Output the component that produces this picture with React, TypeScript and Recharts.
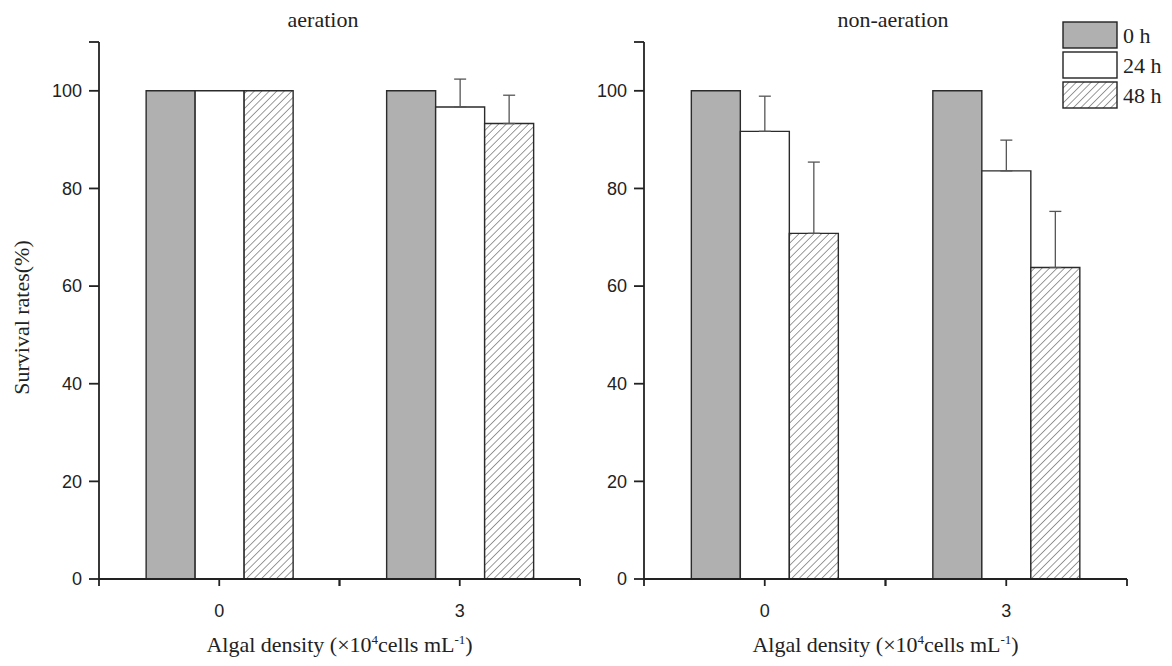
import React from "react";
import { BarChart, Bar, XAxis, YAxis, ErrorBar, Legend, Label } from "recharts";

// Survival rates (%) at algal density 0 and 3 (x10^4 cells/mL)
const densities = ["0", "3"];
const seriesNames = ["0 h", "24 h", "48 h"];

const aeration0h = [100, 100];
const aeration24h = [100, 96.7];
const aeration48h = [100, 93.3];
const aeration24hErr = [null, 5.7];
const aeration48hErr = [null, 5.8];

const nonAeration0h = [100, 100];
const nonAeration24h = [91.7, 83.6];
const nonAeration48h = [70.8, 63.8];
const nonAeration24hErr = [7.2, 6.3];
const nonAeration48hErr = [14.6, 11.5];

const yTicks = [0, 20, 40, 60, 80, 100, 110];

const SERIF = "'Liberation Serif', 'Times New Roman', serif";
const SANS = "'Liberation Sans', Arial, sans-serif";
const INK = "#222";
const X_TICK_SIZE = 7;
const X_TICK_MARGIN = 18;

// only the upper half of the error bar is drawn
const upper = (v: number | null) => (v == null ? null : [0, v]);

const buildRows = (
  h0: number[],
  h24: number[],
  h48: number[],
  e24: (number | null)[],
  e48: (number | null)[]
) =>
  densities.map((d, i) => ({
    density: d,
    h0: h0[i],
    h24: h24[i],
    h48: h48[i],
    e24: upper(e24[i]),
    e48: upper(e48[i]),
  }));

const aerationRows = buildRows(aeration0h, aeration24h, aeration48h, aeration24hErr, aeration48hErr);
const nonAerationRows = buildRows(
  nonAeration0h,
  nonAeration24h,
  nonAeration48h,
  nonAeration24hErr,
  nonAeration48hErr
);

function XTick(props: any) {
  const { x, y, payload } = props;
  const half = typeof payload?.offset === "number" ? payload.offset : 0;
  const axisY = y - X_TICK_SIZE - X_TICK_MARGIN;
  return (
    <g>
      {half > 0 && (
        <>
          <line x1={x - half} x2={x - half} y1={axisY} y2={axisY + X_TICK_SIZE} stroke={INK} strokeWidth={1.8} />
          <line x1={x + half} x2={x + half} y1={axisY} y2={axisY + X_TICK_SIZE} stroke={INK} strokeWidth={1.8} />
        </>
      )}
      <text x={x} y={y} dy="0.71em" textAnchor="middle" fontFamily={SANS} fontSize={18} fill={INK}>
        {payload.value}
      </text>
    </g>
  );
}

function XTitle(props: any) {
  const vb = props.viewBox;
  const cx = vb.x + vb.width / 2;
  return (
    <text x={cx} y={vb.y + 73} textAnchor="middle" fontFamily={SERIF} fontSize={22} fill={INK}>
      Algal density (×10
      <tspan dy={-8} fontSize={13}>4</tspan>
      <tspan dy={8}>cells mL</tspan>
      <tspan dy={-8} fontSize={13}>-1</tspan>
      <tspan dy={8}>)</tspan>
    </text>
  );
}

function YTitle(props: any) {
  const vb = props.viewBox;
  const x = 29;
  const y = vb.y + vb.height / 2 + 7;
  return (
    <text
      x={x}
      y={y}
      textAnchor="middle"
      transform={`rotate(-90, ${x}, ${y})`}
      fontFamily={SERIF}
      fontSize={22}
      fill={INK}
    >
      Survival rates(%)
    </text>
  );
}

function BoxLegend(props: any) {
  const items = props.payload ?? [];
  return (
    <svg width={124} height={92}>
      {items.map((entry: any, i: number) => (
        <g key={entry.value}>
          <rect x={1} y={1 + i * 30} width={54} height={26} fill={entry.color} stroke={INK} strokeWidth={1.4} />
          <text x={61} y={22 + i * 30} fontFamily={SERIF} fontSize={22} fill={INK}>
            {entry.value}
          </text>
        </g>
      ))}
    </svg>
  );
}

function Hatch({ id }: { id: string }) {
  return (
    <defs>
      <pattern id={id} patternUnits="userSpaceOnUse" width={5.3} height={5.3} patternTransform="rotate(45)">
        <rect width={5.3} height={5.3} fill="#fff" />
        <line x1={0} y1={0} x2={0} y2={5.3} stroke="#4a4a4a" strokeWidth={1.1} />
      </pattern>
    </defs>
  );
}

function Panel({
  rows,
  title,
  titleX,
  hatchId,
  width,
  margin,
  showYTitle,
  showLegend,
}: {
  rows: any[];
  title: string;
  titleX: number;
  hatchId: string;
  width: number;
  margin: { top: number; right: number; bottom: number; left: number };
  showYTitle?: boolean;
  showLegend?: boolean;
}) {
  const fills = ["#b0b0b0", "#ffffff", `url(#${hatchId})`];
  const keys = ["h0", "h24", "h48"];
  return (
    <BarChart width={width} height={666} data={rows} margin={margin} barCategoryGap="19.6%" barGap={0}>
      <Hatch id={hatchId} />
      <text x={titleX} y={27} textAnchor="middle" fontFamily={SERIF} fontSize={22} fill={INK}>
        {title}
      </text>
      <XAxis
        dataKey="density"
        height={60}
        tick={XTick}
        tickSize={X_TICK_SIZE}
        tickMargin={X_TICK_MARGIN}
        axisLine={{ stroke: INK, strokeWidth: 1.8 }}
        tickLine={{ stroke: INK, strokeWidth: 1.8 }}
      >
        <Label content={XTitle} />
      </XAxis>
      <YAxis
        width={60}
        domain={[0, 110]}
        ticks={yTicks}
        interval={0}
        tickFormatter={(v: number) => (v === 110 ? "" : String(v))}
        tickSize={10}
        tickMargin={7}
        tick={{ fontFamily: SANS, fontSize: 18, fill: INK }}
        axisLine={{ stroke: INK, strokeWidth: 1.8 }}
        tickLine={{ stroke: INK, strokeWidth: 1.8 }}
      >
        {showYTitle && <Label content={YTitle} />}
      </YAxis>
      {keys.map((k, i) => (
        <Bar
          key={k}
          dataKey={k}
          name={seriesNames[i]}
          fill={fills[i]}
          stroke="#2b2b2b"
          strokeWidth={1.4}
          isAnimationActive={false}
        >
          {k !== "h0" && (
            <ErrorBar
              dataKey={k === "h24" ? "e24" : "e48"}
              direction="y"
              width={6}
              stroke="#555"
              strokeWidth={1.3}
              isAnimationActive={false}
            />
          )}
        </Bar>
      ))}
      {showLegend && (
        <Legend
          layout="horizontal"
          align="center"
          verticalAlign="middle"
          content={BoxLegend}
          wrapperStyle={{ left: 502, top: 21, width: 124, height: 92 }}
        />
      )}
    </BarChart>
  );
}

export default function App() {
  return (
    <div style={{ position: "absolute", left: 0, top: 0, width: 1172, height: 666, background: "#fff" }}>
      <div style={{ position: "absolute", left: 0, top: 0 }}>
        <Panel
          rows={aerationRows}
          title="aeration"
          titleX={323}
          hatchId="hatchA"
          width={600}
          margin={{ top: 42, right: 20, bottom: 27, left: 39 }}
          showYTitle
        />
      </div>
      <div style={{ position: "absolute", left: 560, top: 0 }}>
        <Panel
          rows={nonAerationRows}
          title="non-aeration"
          titleX={333}
          hatchId="hatchN"
          width={612}
          margin={{ top: 42, right: 45, bottom: 27, left: 24 }}
          showLegend
        />
      </div>
    </div>
  );
}
